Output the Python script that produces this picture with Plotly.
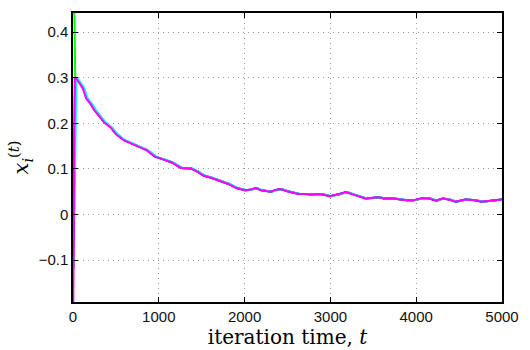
import plotly.graph_objects as go

# Consensus trajectory shared by all agents (iteration, value)
t_path = [20, 35, 57, 114, 153, 210, 248, 305, 362, 439, 496, 591, 667, 762, 857,
          953, 1050, 1150, 1257, 1371, 1448, 1524, 1600, 1714, 1810, 1905, 2000,
          2057, 2134, 2191, 2305, 2362, 2419, 2496, 2553, 2629, 2705, 2781, 2857,
          2914, 2991, 3048, 3105, 3181, 3239, 3296, 3410, 3486, 3562, 3619, 3733,
          3886, 3962, 4077, 4153, 4229, 4305, 4381, 4457, 4571, 4686, 4762, 4876,
          5000]
x_path = [0.300, 0.298, 0.293, 0.277, 0.255, 0.241, 0.229, 0.216, 0.202, 0.191, 0.177,
          0.163, 0.156, 0.149, 0.141, 0.127, 0.121, 0.114, 0.102, 0.101, 0.094,
          0.085, 0.081, 0.074, 0.067, 0.058, 0.053, 0.054, 0.058, 0.053, 0.050,
          0.054, 0.056, 0.051, 0.048, 0.045, 0.045, 0.044, 0.045, 0.044, 0.040,
          0.042, 0.045, 0.049, 0.045, 0.042, 0.035, 0.037, 0.038, 0.035, 0.035,
          0.031, 0.031, 0.036, 0.035, 0.030, 0.035, 0.033, 0.028, 0.033, 0.031,
          0.028, 0.031, 0.033]

# Agents: colour, starting value, delay (iterations) behind the shared path
agent_colors = ["#ff0000", "#00ff00", "#0000ff", "#00ffff", "#ff00ff"]
agent_x0 = [0.12, 0.60, -0.12, -0.01, -0.30]
agent_lag = [12, 6, 4, 18, 0]

fig = go.Figure()
for color, x0, lag in zip(agent_colors, agent_x0, agent_lag):
    ts = [lag] + [min(t + lag, 5000) for t in t_path]
    xs = [x0] + x_path
    fig.add_trace(go.Scatter(x=ts, y=xs, mode="lines",
                             line=dict(color=color, width=2), showlegend=False))

axis_common = dict(
    showline=True, linecolor="black", linewidth=1.5, mirror="ticks",
    ticks="inside", ticklen=5, tickcolor="black", tickwidth=1,
    showgrid=True, gridcolor="#9a9a9a", griddash="1px,4px", gridwidth=1,
    zeroline=False,
    tickfont=dict(family="Liberation Sans, Arial, sans-serif", size=15, color="#111"),
)

fig.update_layout(
    width=530, height=350,
    margin=dict(l=73, r=19, t=11, b=42),
    paper_bgcolor="white", plot_bgcolor="white",
    xaxis=dict(range=[0, 5000], tickvals=[0, 1000, 2000, 3000, 4000, 5000],
               title=dict(text="iteration time, <i>t</i>", standoff=0,
                          font=dict(family="DejaVu Serif, serif", size=20, color="black")),
               **axis_common),
    yaxis=dict(range=[-0.192, 0.442], tickvals=[-0.1, 0, 0.1, 0.2, 0.3, 0.4],
               ticktext=["\u22120.1", "0", "0.1", "0.2", "0.3", "0.4"],
               title=dict(text="<i>x</i><sub><i>i</i></sub><sup>(<i>t</i>)</sup>", standoff=4,
                          font=dict(family="DejaVu Serif, serif", size=21, color="black")),
               **axis_common),
)

fig.write_html("out.html")
